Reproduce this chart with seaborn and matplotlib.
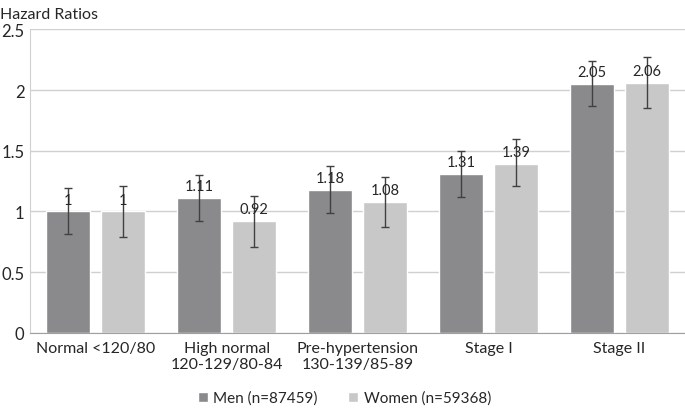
import numpy as np
import pandas as pd
import matplotlib.pyplot as plt
import seaborn as sns

categories = ["Normal <120/80", "High normal\n120-129/80-84", "Pre-hypertension\n130-139/85-89",
              "Stage I", "Stage II"]
groups = ["Men (n=87459)", "Women (n=59368)"]
men_hr = [1.00, 1.11, 1.18, 1.31, 2.05]
men_lo = [0.81, 0.92, 0.99, 1.12, 1.865]
men_hi = [1.19, 1.30, 1.37, 1.50, 2.24]
women_hr = [1.00, 0.92, 1.08, 1.39, 2.06]
women_lo = [0.79, 0.71, 0.87, 1.21, 1.85]
women_hi = [1.21, 1.13, 1.285, 1.595, 2.275]
labels_men = ["1", "1.11", "1.18", "1.31", "2.05"]
labels_women = ["1", "0.92", "1.08", "1.39", "2.06"]

df = pd.DataFrame({
    "category": categories * 2,
    "group": [groups[0]] * 5 + [groups[1]] * 5,
    "hr": men_hr + women_hr,
    "lo": men_lo + women_lo,
    "hi": men_hi + women_hi,
    "label": labels_men + labels_women,
})

sns.set_style("white")
plt.rcParams["font.family"] = ["Lato", "DejaVu Sans"]

fig = plt.figure(figsize=(6.85, 4.1), dpi=100)
ax = fig.add_axes([0.044, 0.186, 0.956, 0.74])

sns.barplot(data=df, x="category", y="hr", hue="group", order=categories, hue_order=groups,
            palette=["#8a8a8c", "#c8c8c9"], width=0.835, gap=0.2, errorbar=None, ax=ax,
            saturation=1, zorder=2)

# error bars and value labels, one per bar, taken from the drawn patches
bars = ax.patches[:10]
for (i, row), bar in zip(df.iterrows(), bars):
    xc = bar.get_x() + bar.get_width() / 2
    ax.errorbar(xc, row["hr"], yerr=[[row["hr"] - row["lo"]], [row["hi"] - row["hr"]]],
                fmt="none", ecolor="#404040", elinewidth=1, capsize=3, capthick=1, zorder=3)
    ax.text(xc, row["hr"] + 0.04, row["label"], ha="center", va="bottom",
            fontsize=10.5, color="#262626", zorder=4)

ax.set_ylim(0, 2.5)
ax.set_yticks([0, 0.5, 1, 1.5, 2, 2.5])
ax.set_yticklabels(["0", "0.5", "1", "1.5", "2", "2.5"])
ax.set_xlim(-0.5, 4.5)
ax.yaxis.grid(True, color="#d0d0d0", linewidth=1)
ax.set_axisbelow(True)
ax.set_xlabel("")
ax.set_ylabel("")
for s in ["top", "right"]:
    ax.spines[s].set_visible(False)
ax.spines["left"].set_color("#d0d0d0")
ax.spines["bottom"].set_color("#a0a0a0")
ax.tick_params(axis="both", length=0, labelsize=12, colors="#262626", pad=4)
ax.tick_params(axis="x", labelsize=11.5, pad=6)

fig.text(0.0, 0.98, "Hazard Ratios", ha="left", va="top", fontsize=11.5, color="#262626")

ax.legend(loc="center", bbox_to_anchor=(0.48, -0.215), ncol=2, frameon=False,
          fontsize=11, handlelength=0.65, handleheight=0.65, handletextpad=0.35,
          columnspacing=2.0, labelcolor="#262626")

fig.savefig("out.png", dpi=100)
